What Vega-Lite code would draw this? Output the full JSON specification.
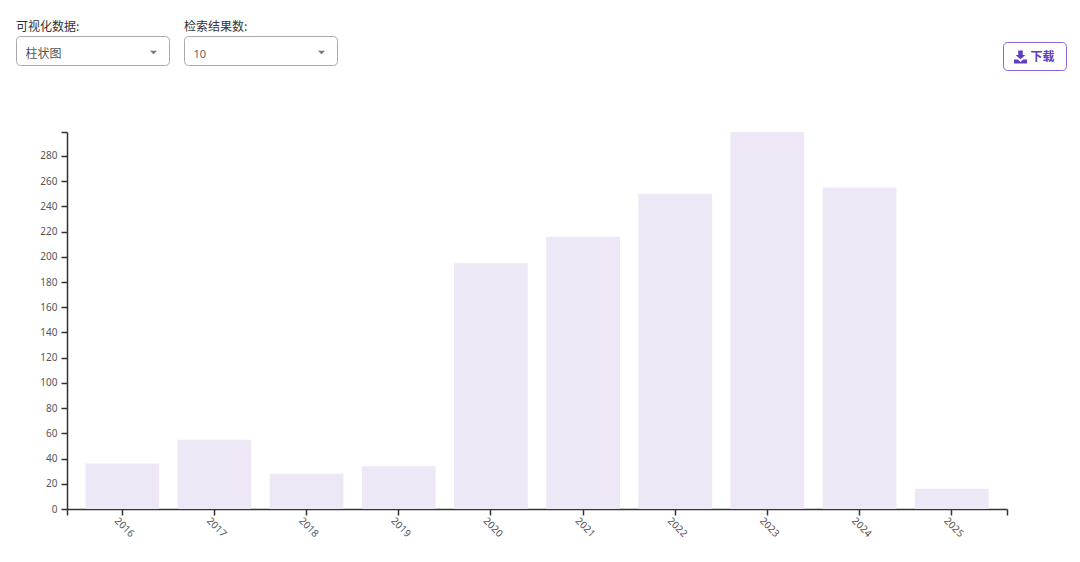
{
"$schema":"https://vega.github.io/schema/vega-lite/v6.json",
"padding":{"left":15,"top":20,"right":0,"bottom":0},
"background":"white",
"spacing":60,
"config":{"font":"Noto Sans CJK SC","concat":{"spacing":15},"title":{"anchor":"start","fontSize":12,"fontWeight":"normal","color":"#333","offset":2}},
"vconcat":[
{"hconcat":[
 {"hconcat":[
  {"width":153,"height":29,"title":"可视化数据:","view":{"stroke":"#aaa","cornerRadius":4,"fill":"white"},
   "data":{"values":[{"label":"柱状图"}]},
   "layer":[
    {"mark":{"type":"text","align":"left","dx":-67,"dy":3,"fontSize":12,"color":"#555"},"encoding":{"text":{"field":"label"}}},
    {"mark":{"type":"point","shape":"M-1,-0.5L1,-0.5L0,0.5Z","filled":true,"size":50,"color":"#777","opacity":1,"xOffset":61,"yOffset":2},"encoding":{}}
   ]},
  {"width":153,"height":29,"title":"检索结果数:","view":{"stroke":"#aaa","cornerRadius":4,"fill":"white"},
   "data":{"values":[{"label":"10"}]},
   "layer":[
    {"mark":{"type":"text","align":"left","dx":-67,"dy":4,"fontSize":11,"color":"#666","font":"Noto Sans"},"encoding":{"text":{"field":"label"}}},
    {"mark":{"type":"point","shape":"M-1,-0.5L1,-0.5L0,0.5Z","filled":true,"size":50,"color":"#777","opacity":1,"xOffset":61,"yOffset":2},"encoding":{}}
   ]}
 ],"spacing":13},
 {"vconcat":[
  {"width":63,"height":1,"view":{"stroke":null},"data":{"values":[{"label":""}]},"mark":{"type":"rule","opacity":0},"encoding":{}},
  {"width":63,"height":28,"view":{"stroke":"#8a63d9","cornerRadius":4,"fill":"white"},
  "data":{"values":[{"label":"下载"}]},
  "layer":[
   {"mark":{"type":"text","dx":8,"dy":1,"fontSize":12,"fontWeight":"bold","color":"#5f3dc4"},"encoding":{"text":{"field":"label"}}},
   {"mark":{"type":"point","shape":"M-1,-1H-0.35V-0.3H-0.75L0,0.35L0.75,-0.3H0.35V-1H1M-1,0.4H-0.4L0,0.75L0.4,0.4H1V1H-1Z","filled":true,"size":170,"color":"#5f3dc4","opacity":1,"xOffset":-14,"yOffset":1},"encoding":{}}
  ]}],"spacing":4}
],"spacing":664},
{"width":991,"height":377,"view":{"stroke":null},
 "data":{"values":[
  {"year":2016,"count":36},{"year":2017,"count":55},{"year":2018,"count":28},{"year":2019,"count":34},{"year":2020,"count":195},
  {"year":2021,"count":216},{"year":2022,"count":250},{"year":2023,"count":299},{"year":2024,"count":255},{"year":2025,"count":16}]},
 "layer":[
  {"mark":{"type":"bar","color":"#ede7f6"},
   "encoding":{
    "x":{"field":"year","type":"ordinal","scale":{"paddingInner":0.2,"paddingOuter":0.2,"range":[51,991]},"title":null,
      "axis":{"orient":"bottom","labelAngle":45,"labelAlign":"center","labelBaseline":"middle","labelPadding":12,"labelOffset":2,"labelFontSize":10,"labelColor":"#555","labelFont":"Noto Sans","tickColor":"#333","domainColor":"#333","domainWidth":1.5,"tickWidth":1.5,"tickSize":6,"grid":false}},
    "y":{"field":"count","type":"quantitative","scale":{"domain":[0,299],"nice":false},"title":null,
      "axis":{"offset":-51,"values":[0,20,40,60,80,100,120,140,160,180,200,220,240,260,280,299],"labelExpr":"datum.value>280?'':datum.label","labelFontSize":10,"labelColor":"#555","labelFont":"Noto Sans","tickColor":"#333","domainColor":"#333","domainWidth":1.5,"tickWidth":1.5,"tickSize":6,"labelPadding":4,"grid":false}}
   }},
  {"mark":{"type":"rule","opacity":0},
   "encoding":{"x":{"field":"year","type":"quantitative","scale":{"domain":[2015,2026],"nice":false,"range":[51,991]},"title":null,
     "axis":{"orient":"bottom","values":[2015,2026],"labels":false,"domain":false,"tickColor":"#333","tickWidth":1.5,"tickSize":6,"grid":false}}}}
 ],
 "resolve":{"scale":{"x":"independent"},"axis":{"x":"independent"}}}
]}
